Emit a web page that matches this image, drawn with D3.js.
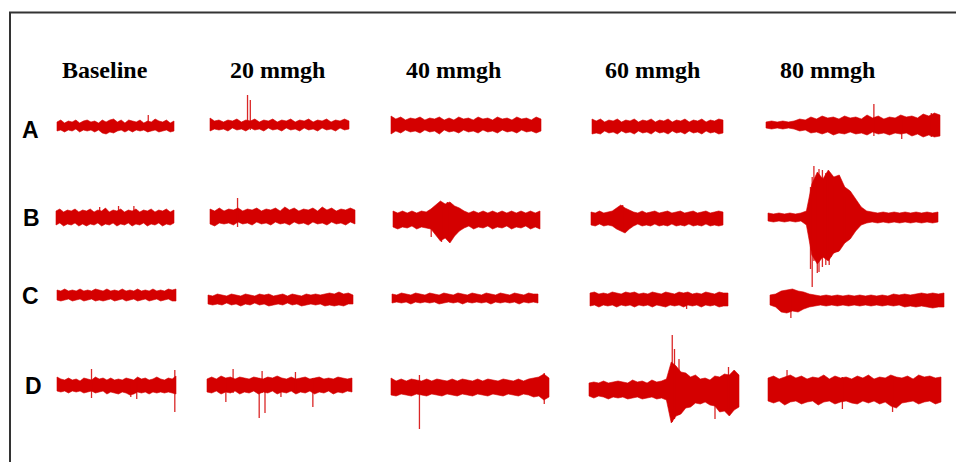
<!DOCTYPE html>
<html><head><meta charset="utf-8">
<script src="https://cdn.jsdelivr.net/npm/d3@7"></script>
<style>html,body{margin:0;padding:0;background:#fff;}svg{display:block;}</style>
</head><body>
<svg id="c" width="956" height="462"></svg>
<script>
// ---------- DATA ----------
const conditions = ["Baseline", "20 mmgh", "40 mmgh", "60 mmgh", "80 mmgh"];
const rows = ["A", "B", "C", "D"];

// Envelope of each trace (amplitude units above / below the baseline), 32 samples per trace
const upperA = [
  [4,6,3,5,4,6,3,5,6,4,5,3,6,4,6,7,4,6,3,6,5,4,6,3,5,4,7,5,4,6,3,5],
  [7,4,5,3,5,4,6,3,5,4,6,3,5,4,6,3,5,4,6,3,5,4,6,3,5,4,6,3,5,4,6,4],
  [9,6,8,5,7,6,8,5,7,6,8,5,7,5,8,6,7,5,8,6,7,5,8,6,7,5,8,6,7,5,8,6],
  [7,5,7,4,6,5,7,4,6,5,7,4,6,5,7,4,6,5,7,4,6,5,7,4,6,5,7,4,6,5,7,6],
  [3,4,3,4,3,4,6,5,8,6,9,7,8,6,9,7,8,6,10,7,9,6,8,7,10,8,9,7,11,9,12,10]
];
const lowerA = [
  [5,4,6,4,5,3,6,4,5,4,6,4,7,8,6,7,5,4,6,4,6,4,5,4,6,5,4,6,5,4,6,5],
  [6,4,5,4,6,3,5,4,6,3,5,4,6,3,5,4,6,3,5,4,6,3,5,4,6,3,5,4,6,3,5,4],
  [9,6,8,5,7,6,8,5,7,6,9,5,7,6,8,5,7,6,8,5,7,6,8,5,7,6,8,5,7,6,8,6],
  [8,7,8,5,7,6,8,5,7,6,8,5,7,6,8,5,7,6,8,5,7,6,8,5,7,6,8,5,7,6,8,7],
  [3,4,3,4,3,4,6,5,8,7,9,7,10,8,9,7,9,8,10,7,9,8,10,8,9,8,11,9,12,10,12,11]
];
const upperB = [
  [6,8,5,7,6,8,5,7,6,8,5,7,6,9,5,7,6,8,5,7,6,8,5,7,6,8,5,7,6,8,5,7],
  [7,5,8,5,7,6,8,5,7,6,8,5,7,6,8,5,9,6,8,5,7,6,8,5,9,6,8,5,7,6,8,6],
  [8,6,8,6,8,6,8,7,10,14,18,15,17,13,11,8,6,8,6,8,6,8,6,8,6,8,6,8,6,8,6,8],
  [6,5,7,5,6,7,10,13,10,8,6,5,7,5,6,7,5,6,7,5,6,7,5,6,7,5,6,7,5,6,7,6],
  [4,3,4,3,4,3,4,6,33,45,38,47,40,42,30,26,18,10,6,5,4,5,4,5,4,5,4,5,4,5,4,5]
];
const lowerB = [
  [8,6,9,7,8,6,9,7,9,7,8,6,9,7,8,6,9,7,8,6,9,7,8,6,9,7,8,6,9,7,8,6],
  [8,10,7,8,7,9,6,8,7,9,6,8,7,9,6,8,7,9,6,8,7,9,6,8,7,9,6,8,7,9,6,8],
  [8,10,8,9,7,10,8,9,10,16,22,19,24,17,12,9,7,10,8,9,7,10,8,9,7,10,8,9,7,10,8,10],
  [7,8,6,8,7,8,11,13,15,11,8,6,8,7,8,6,8,7,8,6,8,7,8,6,8,7,8,6,8,7,8,7],
  [4,5,4,5,4,5,4,8,38,47,40,44,36,34,26,22,14,8,6,5,6,5,6,5,6,5,6,5,6,5,6,5]
];
const upperC = [
  [5,4,6,4,5,4,6,4,5,4,6,5,4,6,4,5,4,6,4,5,4,6,4,5,4,6,4,5,4,6,5,6],
  [4,3,5,4,3,5,4,3,5,4,3,5,4,5,3,4,5,3,5,4,3,5,4,5,4,5,6,5,7,5,6,4],
  [4,3,5,4,3,5,4,3,5,4,3,5,4,3,5,4,3,5,4,3,5,4,3,5,4,3,5,4,3,5,4,4],
  [6,7,5,6,5,7,6,5,7,6,7,5,6,5,7,6,5,7,6,5,7,6,7,5,6,5,7,6,5,7,6,6],
  [5,6,9,10,11,9,8,6,5,4,5,4,5,4,5,4,5,4,5,4,5,4,6,5,6,5,6,7,6,7,6,7]
];
const lowerC = [
  [5,6,5,4,6,5,4,6,5,4,6,5,6,5,4,6,5,4,6,5,4,6,5,4,6,5,4,6,5,4,6,6],
  [5,6,5,6,4,6,5,7,5,6,4,6,5,7,6,5,6,4,6,5,7,6,5,6,5,7,6,7,6,7,5,5],
  [5,4,5,4,6,4,5,4,5,4,6,5,4,5,4,6,4,5,4,5,4,6,4,5,4,5,4,6,4,5,4,5],
  [7,6,8,6,7,6,8,6,7,6,8,6,7,6,8,6,7,8,6,7,6,8,6,7,6,8,6,7,6,8,7,7],
  [5,7,12,13,11,12,9,7,6,5,6,5,6,5,6,5,6,5,6,5,6,5,6,5,7,6,7,6,7,8,7,7]
];
const upperD = [
  [8,6,5,7,5,6,4,7,6,5,8,6,7,5,7,5,6,5,7,6,5,8,6,7,5,6,8,6,5,7,6,9],
  [6,8,6,9,7,8,6,8,7,6,8,7,6,8,7,9,7,6,8,6,7,8,6,7,8,6,7,6,8,7,6,7],
  [9,6,8,6,8,7,6,8,6,8,7,6,8,6,8,7,6,8,6,8,7,6,8,7,6,8,6,8,9,10,13,9],
  [6,7,6,8,6,7,8,7,6,9,7,8,6,9,7,8,10,27,23,17,16,12,14,10,11,9,13,12,15,14,19,14],
  [11,13,10,12,14,11,13,10,12,11,14,10,13,11,12,10,13,11,14,10,12,11,14,12,11,13,10,14,12,13,11,12]
];
const lowerD = [
  [6,7,6,8,6,7,6,8,7,6,8,7,6,9,7,8,9,7,8,10,9,7,8,7,9,7,8,7,8,7,8,9],
  [7,8,6,9,7,8,6,9,7,8,6,9,7,8,6,9,7,8,6,9,7,8,6,9,7,8,6,9,7,8,6,7],
  [8,9,7,8,9,7,8,9,7,8,9,7,8,9,7,8,9,7,8,9,7,8,9,7,8,9,7,8,10,9,13,10],
  [7,9,7,8,10,8,9,8,10,9,8,10,9,8,10,9,11,34,27,25,19,18,14,15,13,16,17,23,22,27,21,18],
  [12,14,12,16,13,12,15,13,12,16,13,12,15,13,12,14,15,12,14,12,15,13,17,19,14,13,12,15,13,12,15,13]
];

// Isolated spikes: [trace index, position along trace (0-1), amplitude up, amplitude down]
const spikesA = [[0,0.78,11,6],[1,0.27,30,5],[1,0.29,25,5],[4,0.62,21,11],[4,0.78,6,14],[4,0.95,12,12]];
const spikesB = [[0,0.37,10,7],[0,0.53,11,7],[0,0.66,11,7],[1,0.19,18,11],[2,0.26,8,18],[2,0.33,17,23],[2,0.37,17,20],
  [3,0.24,13,12],
  [4,0.25,30,52],[4,0.26,40,70],[4,0.27,51,44],[4,0.29,42,56],[4,0.30,48,55],[4,0.32,47,50],[4,0.34,44,48],[4,0.35,40,38],[4,0.36,40,48],
  [4,0.37,38,40],[4,0.39,32,36],[4,0.41,30,35],[4,0.43,26,30],[4,0.45,20,26]];
const spikesC = [[3,0.70,6,10],[4,0.12,10,18]];
const spikesD = [[0,0.29,16,13],[0,0.62,6,12],[0,0.67,6,14],[0,0.99,15,27],
  [1,0.13,7,17],[1,0.18,16,8],[1,0.36,7,33],[1,0.38,14,8],[1,0.40,7,28],[1,0.51,7,12],[1,0.61,13,8],[1,0.73,7,22],
  [2,0.18,12,42],[2,0.97,14,17],
  [3,0.555,54,33],[3,0.57,40,30],[3,0.60,30,26],[3,0.84,12,30],[3,0.93,22,20],
  [4,0.11,19,13],[4,0.43,12,20],[4,0.72,12,23]];

// ---------- LAYOUT ----------
const W = 956, H = 462;
const headerX = [62, 230, 406, 605, 780];
const headerY = 78;
const rowLabel = {A:[22,138], B:[23,226], C:[22,304], D:[25,394]};
// per-row trace extents [x0, x1, centre y]
const traceLayout = {
  A: [[57,174,126],[210,349,125],[391,541,125],[592,723,126],[766,940,125]],
  B: [[56,174,217],[210,355,216],[393,540,219],[591,723,218],[768,938,217]],
  C: [[57,176,295],[208,353,299],[392,538,298],[590,728,299],[770,944,300]],
  D: [[57,176,385],[207,352,385],[391,549,387],[589,739,389],[768,941,389]]
};
const envData = {A:[upperA,lowerA], B:[upperB,lowerB], C:[upperC,lowerC], D:[upperD,lowerD]};
const spikeData = {A:spikesA, B:spikesB, C:spikesC, D:spikesD};
const red = "#d40000";

const svg = d3.select("#c");
svg.append("rect").attr("width",W).attr("height",H).attr("fill","#fff");

// frame (open on right/bottom as in reference)
svg.append("path").attr("d", d3.line()([[10,H],[10,12.5],[W,12.5]]))
  .attr("fill","none").attr("stroke","#333").attr("stroke-width",2);

// headers
svg.selectAll("text.hdr").data(conditions).join("text").attr("class","hdr")
  .attr("x",(d,i)=>headerX[i]).attr("y",headerY)
  .attr("font-family","'Liberation Serif','Times New Roman',serif")
  .attr("font-weight","bold").attr("font-size",24).attr("fill","#000").text(d=>d);

// row labels
svg.selectAll("text.row").data(rows).join("text").attr("class","row")
  .attr("x",d=>rowLabel[d][0]).attr("y",d=>rowLabel[d][1])
  .attr("font-family","'Liberation Sans',Arial,sans-serif")
  .attr("font-weight","bold").attr("font-size",23).attr("fill","#000").text(d=>d);

// traces
rows.forEach(r=>{
  const [ups, lows] = envData[r];
  const g = svg.append("g");
  traceLayout[r].forEach((L,ti)=>{
    const [x0,x1,cy] = L;
    const up = ups[ti], lo = lows[ti];
    const x = d3.scaleLinear().domain([0, up.length-1]).range([x0, x1]);
    const y = d3.scaleLinear().domain([-100,100]).range([cy+100, cy-100]);
    const pts = up.map((u,i)=>({i, u, l: lo[i]}));
    g.append("path").datum(pts)
      .attr("d", d3.area().x(d=>x(d.i)).y0(d=>y(-d.l)).y1(d=>y(d.u)).curve(d3.curveLinear))
      .attr("fill", red).attr("stroke", red).attr("stroke-width", 0.6).attr("stroke-linejoin","miter");
    const xf = d3.scaleLinear().domain([0,1]).range([x0,x1]);
    g.selectAll(null).data(spikeData[r].filter(s=>s[0]===ti)).join("line")
      .attr("x1",s=>xf(s[1])).attr("x2",s=>xf(s[1]))
      .attr("y1",s=>y(s[2])).attr("y2",s=>y(-s[3]))
      .attr("stroke", red).attr("stroke-width",1.3).attr("stroke-opacity",0.85);
  });
});
</script>
</body></html>
